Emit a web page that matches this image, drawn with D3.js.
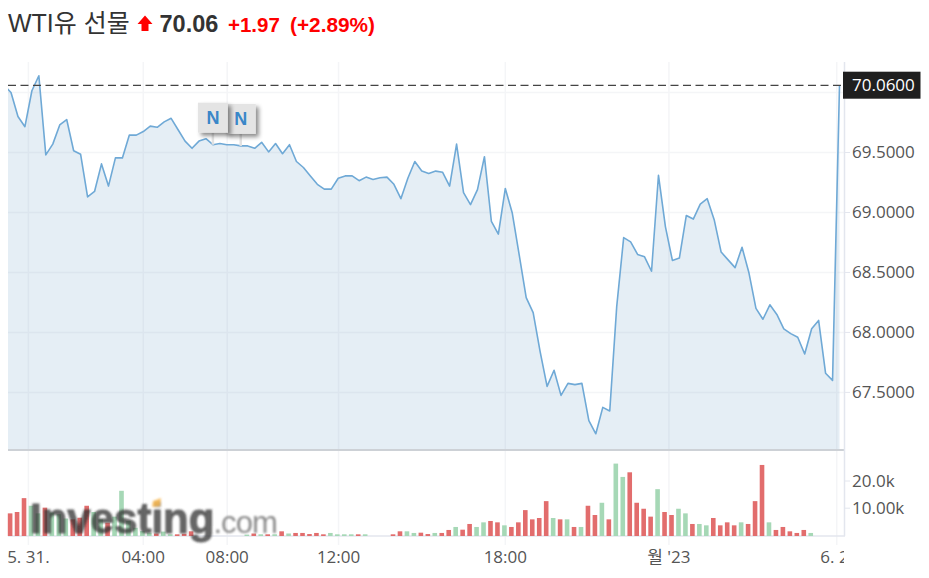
<!DOCTYPE html>
<html><head><meta charset="utf-8">
<script src="https://cdn.jsdelivr.net/npm/d3@7/dist/d3.min.js"></script>
<style>html,body{margin:0;padding:0;background:#fff}svg{display:block}</style>
</head><body><svg id="c" width="929" height="578"></svg>
<script>
const titleName = "WTI유 선물";
const lastPrice = "70.06";
const change = "+1.97";
const changePct = "(+2.89%)";
// first value is the point just left of the visible window
const priceValues = [70.06,70.00,69.80,69.715,70.015,70.14,69.48,69.57,69.73,69.775,69.515,69.485,69.13,69.175,69.405,69.22,69.455,69.455,69.645,69.645,69.675,69.72,69.71,69.755,69.785,69.69,69.595,69.535,69.595,69.615,69.565,69.575,69.565,69.565,69.555,69.555,69.535,69.585,69.505,69.575,69.49,69.565,69.425,69.375,69.305,69.235,69.195,69.195,69.285,69.305,69.305,69.265,69.295,69.275,69.29,69.295,69.235,69.115,69.285,69.425,69.345,69.325,69.345,69.335,69.22,69.57,69.165,69.065,69.19,69.465,68.925,68.82,69.2,68.995,68.645,68.29,68.165,67.84,67.55,67.685,67.475,67.575,67.565,67.575,67.265,67.155,67.375,67.345,68.215,68.79,68.755,68.65,68.63,68.51,69.31,68.88,68.6,68.62,68.975,68.945,69.07,69.115,68.94,68.67,68.605,68.54,68.71,68.495,68.2,68.11,68.23,68.15,68.03,67.99,67.96,67.82,68.03,68.1,67.66,67.6,70.06];
const volumeValues = [8.1,8.6,13.7,10.9,8.1,10.2,8.4,7.8,6.2,5.9,6.5,10.9,8.6,5.9,4.7,6.9,16.4,5.3,2.8,1.6,1.0,0.7,1.4,0.4,0.4,0.6,1.5,0,0,0,0,0,0,0,0.3,0.7,0.4,0.4,0.4,1.5,0.7,0.9,0.9,0.5,0.9,0.4,0.9,0.4,0.4,0.4,0.4,0.4,0,0,0,0.4,1.5,1.5,0.9,1.0,0.5,0.9,0.9,2.0,3.1,2.1,4.2,3.1,4.8,5.3,4.8,3.7,3.1,4.8,9.3,5.9,6.4,12.6,6.4,5.9,5.9,3.1,3.1,10.9,7.5,12.0,5.9,26.4,21.5,23.2,12.0,9.8,6.9,17.0,8.6,7.5,9.8,8.1,4.2,4.2,3.7,6.4,3.7,4.8,3.7,4.8,4.2,12.6,25.9,4.8,2.0,3.1,1.5,0.9,2.0,0.9,0,0,0,0];
const volumeDown = [1,1,1,0,0,1,0,0,0,1,1,1,0,0,1,0,0,0,0,0,0,1,0,0,1,1,1,0,0,0,0,0,0,0,0,1,0,1,0,1,0,1,1,1,1,1,0,0,0,0,1,0,0,0,0,1,1,0,0,1,1,0,1,1,0,1,1,0,0,1,1,0,1,1,1,1,1,1,0,1,0,1,0,1,1,0,1,0,0,1,1,1,1,0,1,1,0,0,1,0,0,1,1,1,1,0,1,1,1,0,1,1,1,1,1,0,0,0,0,0];
const priceTicks = [70,69.5,69,68.5,68,67.5];
const priceTickLabels = ["","69.5000","69.0000","68.5000","68.0000","67.5000"];
const volumeTicks = [20,10];
const volumeTickLabels = ["20.0k","10.00k"];
const timeTicks = [2.5,19,31.05,47.05,71,94.5,118.6];
const timeLabels = ["5. 31.","04:00","08:00","12:00","18:00","월 '23","6. 2."];
const newsIndex = [33,29];

const L=8,R=844,T=62,B=450,VB=536;
const x=d3.scaleLinear().domain([0,119]).range([11,839.5]);
const y=d3.scaleLinear().domain([67.5,69.5]).range([392.4,152.5]);
const yV=d3.scaleLinear().domain([0,20]).range([535.4,481]);
const svg=d3.select("#c");
const sans="'Liberation Sans',Arial,'Noto Sans CJK KR',sans-serif";
const axisFont="'Open Sans','Noto Sans CJK KR',sans-serif";
const defs=svg.append("defs");
defs.append("clipPath").attr("id","plot").append("rect").attr("x",L).attr("y",T).attr("width",R-L).attr("height",B-T);
defs.append("clipPath").attr("id","xlab").append("rect").attr("x",L).attr("y",536).attr("width",R-L).attr("height",42);
defs.append("filter").attr("id","wm").attr("x","-5%").attr("y","-20%").attr("width","110%").attr("height","140%")
  .append("feGaussianBlur").attr("stdDeviation",0.8);
const sh=defs.append("filter").attr("id","sh").attr("x","-30%").attr("y","-30%").attr("width","170%").attr("height","170%");
sh.append("feDropShadow").attr("dx",3).attr("dy",3).attr("stdDeviation",2).attr("flood-color","#000").attr("flood-opacity",0.45);

// header
const hdr=[
 {t:titleName,x:8,s:25,w:"normal",c:"#333"},
 {t:lastPrice,x:159.5,s:23.5,w:"bold",c:"#333"},
 {t:change,x:228,s:20.5,w:"bold",c:"#f00"},
 {t:changePct,x:290,s:20.8,w:"bold",c:"#f00"}];
svg.selectAll("text.h").data(hdr).join("text").attr("class","h")
 .attr("x",d=>d.x).attr("y",32).attr("font-family",sans).attr("font-size",d=>d.s)
 .attr("font-weight",d=>d.w).attr("fill",d=>d.c).text(d=>d.t);
svg.append("path").attr("d","M137.5 24 L145 15.5 L152.5 24 L148.5 24 L148.5 31 L141.5 31 L141.5 24 Z").attr("fill","#f00");

// grid
const grid=svg.append("g").attr("stroke","#f4f5f7").attr("stroke-width",1.5);
grid.selectAll("line.gy").data(priceTicks).join("line").attr("class","gy").attr("x1",L).attr("x2",R)
 .attr("y1",d=>y(d)).attr("y2",d=>y(d));
grid.selectAll("line.gx").data(timeTicks).join("line").attr("class","gx")
 .attr("x1",d=>x(d)).attr("x2",d=>x(d)).attr("y1",T).attr("y2",545);

// area + line
const idx=(d,i)=>x(i-1);
const plot=svg.append("g").attr("clip-path","url(#plot)");
plot.append("path").datum(priceValues).attr("fill","#6f9fc8").attr("fill-opacity",0.18)
 .attr("d",d3.area().x(idx).y0(B).y1(d=>y(d)));
plot.append("path").datum(priceValues).attr("fill","none").attr("stroke","#6fa9d6").attr("stroke-width",1.6)
 .attr("stroke-linejoin","round").attr("d",d3.line().x(idx).y(d=>y(d)));

// pane separators and axes
svg.append("line").attr("x1",L).attr("x2",R).attr("y1",B).attr("y2",B).attr("stroke","#cdd1d6").attr("stroke-width",2);
svg.append("line").attr("x1",L).attr("x2",R+1).attr("y1",VB).attr("y2",VB).attr("stroke","#e3e6ee").attr("stroke-width",1.5);
svg.append("line").attr("x1",R+.5).attr("x2",R+.5).attr("y1",T).attr("y2",VB).attr("stroke","#e3e6ee").attr("stroke-width",1.5);

// volume
svg.append("g").selectAll("rect").data(volumeValues).join("rect")
 .attr("x",(d,i)=>x(i)-3.2).attr("width",4.6)
 .attr("y",d=>yV(d)).attr("height",d=>d>0?VB-yV(d):0)
 .attr("fill",(d,i)=>volumeDown[i]?"#e26d6d":"#a6d8b6");

// dashed last price
svg.append("line").attr("x1",L).attr("x2",R).attr("y1",y(70.06)).attr("y2",y(70.06))
 .attr("stroke","#444").attr("stroke-width",1.3).attr("stroke-dasharray","8,4.5");

// news flags
const flags=svg.append("g").selectAll("g").data(newsIndex).join("g")
 .attr("transform",d=>`translate(${x(d)},${y(priceValues[d+1])})`);
flags.append("line").attr("y1",-12).attr("y2",0).attr("stroke","#e2e2e2").attr("stroke-width",2.5);
flags.append("rect").attr("x",-15).attr("y",-42).attr("width",30).attr("height",30).attr("fill","#e4e4e4").attr("filter","url(#sh)");
flags.append("text").attr("y",-21).attr("text-anchor","middle").attr("font-family",sans).attr("font-weight","bold")
 .attr("font-size",18).attr("fill","#3a87c8").text("N");

// right axis labels
const axisText=(sel)=>sel.attr("font-family",axisFont).attr("font-size",17).attr("fill","#555");
svg.selectAll("line.rt").data(priceTicks.slice(1)).join("line").attr("class","rt")
 .attr("x1",R).attr("x2",R+6).attr("y1",d=>y(d)).attr("y2",d=>y(d)).attr("stroke","#e3e6ee");
axisText(svg.selectAll("text.rl").data(priceTicks.slice(1)).join("text").attr("class","rl")
 .attr("x",852).attr("y",d=>y(d)+5.5).text((d,i)=>priceTickLabels[i+1]));
svg.selectAll("line.vt").data(volumeTicks).join("line").attr("class","vt")
 .attr("x1",R).attr("x2",R+6).attr("y1",d=>yV(d)).attr("y2",d=>yV(d)).attr("stroke","#e3e6ee");
axisText(svg.selectAll("text.vl").data(volumeTicks).join("text").attr("class","vl")
 .attr("x",852).attr("y",d=>yV(d)+5.5).text((d,i)=>volumeTickLabels[i]));

// bottom axis labels
axisText(svg.append("g").attr("clip-path","url(#xlab)").selectAll("text").data(timeTicks).join("text")
 .attr("x",d=>x(d)).attr("y",563).attr("text-anchor","middle").text((d,i)=>timeLabels[i]));

// last price box
svg.append("rect").attr("x",843).attr("y",71.7).attr("width",77.5).attr("height",27).attr("fill","#1f1f1f");
svg.append("text").attr("x",852).attr("y",91).attr("font-family",axisFont).attr("font-size",17).attr("fill","#fff").text("70.0600");

// watermark
const wm=svg.append("g").attr("filter","url(#wm)");
const wmText=wm.append("text").attr("x",30).attr("y",533).attr("font-family",sans);
wmText.append("tspan").attr("font-weight","bold").attr("font-size",42).attr("fill","#333").attr("fill-opacity",0.74)
 .attr("stroke","#333").attr("stroke-opacity",0.74).attr("stroke-width",0.9).text("Investing");
wmText.append("tspan").attr("font-size",31).attr("letter-spacing",-0.9).attr("dx",-1).attr("fill","#808080").attr("fill-opacity",0.9).text(".com");
wm.append("path").attr("d","M153 501 L161 498 L160 506 L152 507 Z").attr("fill","#f7b955").attr("fill-opacity",0.9);
</script></body></html>
